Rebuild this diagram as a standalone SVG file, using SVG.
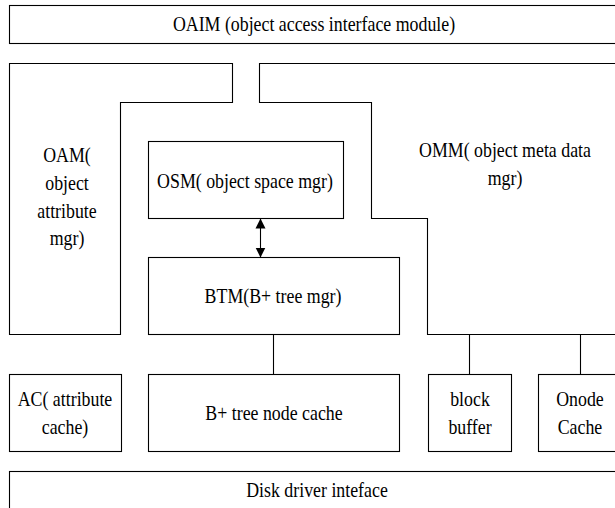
<svg xmlns="http://www.w3.org/2000/svg" width="615" height="508" viewBox="0 0 615 508">
<style>
.box{fill:#fff;stroke:#000;stroke-width:1.1}
.ln{fill:none;stroke:#000;stroke-width:1.1}
text{font-family:"Liberation Serif","Times New Roman",serif;font-size:21px;fill:#000;text-anchor:middle}
</style>
<defs>
<marker id="ah" viewBox="0 0 10 14" refX="10" refY="7" markerWidth="10" markerHeight="14" markerUnits="userSpaceOnUse" orient="auto-start-reverse">
<path d="M0,2 L10,7 L0,12 Z" fill="#000"/>
</marker>
</defs>
<rect width="615" height="508" fill="#fff"/>
<g id="oaim">
<rect class="box" x="9.5" y="5.5" width="620" height="38"/>
<text transform="translate(314 31) scale(0.85 1)">OAIM (object access interface module)</text>
</g>
<g id="oam">
<path class="box" d="M9.5,63.5 H232.5 V102.5 H120.5 V334.5 H9.5 Z"/>
<text transform="translate(67 0) scale(0.85 1)"><tspan x="0" y="162">OAM(</tspan><tspan x="0" y="190">object</tspan><tspan x="0" y="218">attribute</tspan><tspan x="0" y="245">mgr)</tspan></text>
</g>
<g id="omm">
<path class="ln" d="M630,63.5 H259.5 V102.5 H371.5 V218.5 H427.5 V334.5 H630"/>
<text transform="translate(505 0) scale(0.85 1)"><tspan x="0" y="157">OMM( object meta data</tspan><tspan x="0" y="185">mgr)</tspan></text>
</g>
<g id="osm">
<rect class="box" x="148.5" y="141.5" width="195" height="77"/>
<text transform="translate(245 188) scale(0.85 1)">OSM( object space mgr)</text>
</g>
<g id="btm">
<rect class="box" x="148.5" y="257.5" width="251" height="77"/>
<text transform="translate(273 303) scale(0.85 1)">BTM(B+ tree mgr)</text>
</g>
<g id="ac">
<rect class="box" x="9.5" y="374.5" width="112" height="77"/>
<text transform="translate(65 0) scale(0.85 1)"><tspan x="0" y="406">AC( attribute</tspan><tspan x="0" y="434">cache)</tspan></text>
</g>
<g id="bcache">
<rect class="box" x="148.5" y="374.5" width="251" height="77"/>
<text transform="translate(274 420) scale(0.85 1)">B+ tree node cache</text>
</g>
<g id="blockbuf">
<rect class="box" x="428.5" y="374.5" width="83" height="77"/>
<text transform="translate(470 0) scale(0.85 1)"><tspan x="0" y="406">block</tspan><tspan x="0" y="434">buffer</tspan></text>
</g>
<g id="onode">
<rect class="box" x="538.5" y="374.5" width="90" height="77"/>
<text transform="translate(580 0) scale(0.85 1)"><tspan x="0" y="406">Onode</tspan><tspan x="0" y="434">Cache</tspan></text>
</g>
<g id="disk">
<rect class="box" x="9.5" y="471.5" width="620" height="50"/>
<text transform="translate(317 497) scale(0.85 1)">Disk driver inteface</text>
</g>
<g id="connectors">
<line class="ln" x1="260.5" y1="218.5" x2="260.5" y2="257.5" marker-start="url(#ah)" marker-end="url(#ah)"/>
<line class="ln" x1="273.5" y1="334.5" x2="273.5" y2="374.5"/>
<line class="ln" x1="469.5" y1="334.5" x2="469.5" y2="374.5"/>
<line class="ln" x1="580.5" y1="334.5" x2="580.5" y2="374.5"/>
</g>
</svg>
